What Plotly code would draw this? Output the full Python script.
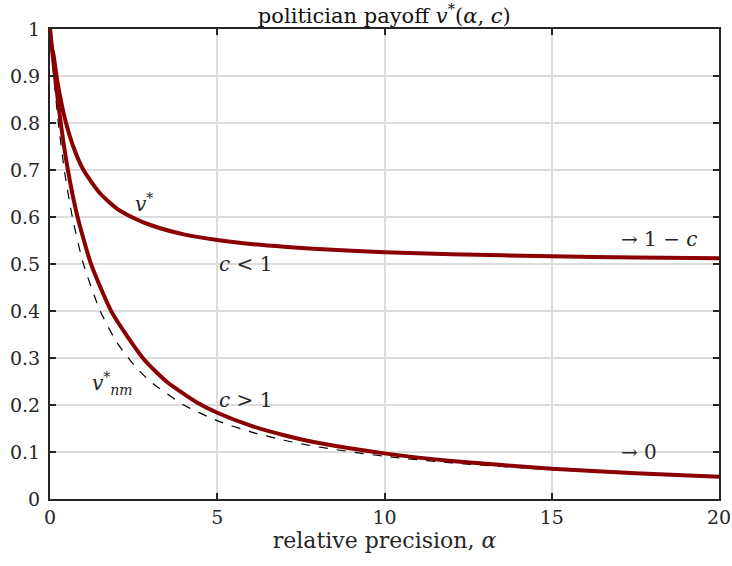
import plotly.graph_objects as go

# --- data ---
alpha_upper = [0, 0.05, 0.1, 0.2, 0.3, 0.45, 0.7, 1.0, 1.5, 2.0, 2.5, 3.0, 4.0, 5, 6, 7, 8, 10, 12, 15, 17.5, 20]
v_upper = [1.0, 0.961, 0.947, 0.898, 0.857, 0.808, 0.749, 0.700, 0.650, 0.618, 0.598, 0.583, 0.563, 0.551, 0.5425, 0.5365, 0.532, 0.525, 0.5207, 0.5164, 0.514, 0.512]

alpha_lower = [0, 0.05, 0.1, 0.17, 0.33, 0.52, 0.8, 1.22, 1.85, 2.8, 3.5, 4.45, 5, 6, 7, 8, 10, 12, 15, 17.5, 20]
v_lower = [1.0, 0.965, 0.931, 0.887, 0.795, 0.706, 0.607, 0.5015, 0.397, 0.298, 0.249, 0.203, 0.1835, 0.156, 0.1357, 0.1196, 0.0971, 0.081, 0.0643, 0.0548, 0.0476]

alpha_nm = [0, 0.05, 0.1, 0.25, 0.43, 0.67, 1.0, 1.5, 2.0, 2.5, 3, 4, 5, 6, 7, 8, 10, 12, 15, 17.5, 20]
v_nm = [1.0, 0.952, 0.909, 0.80, 0.699, 0.599, 0.50, 0.40, 0.333, 0.286, 0.25, 0.20, 0.1667, 0.1429, 0.125, 0.111, 0.0909, 0.0769, 0.0625, 0.054, 0.0476]

x_ticks = [0, 5, 10, 15, 20]
x_tick_labels = ["0", "5", "10", "15", "20"]
y_ticks = [0, 0.1, 0.2, 0.3, 0.4, 0.5, 0.6, 0.7, 0.8, 0.9, 1]
y_tick_labels = ["0", "0.1", "0.2", "0.3", "0.4", "0.5", "0.6", "0.7", "0.8", "0.9", "1"]

FONT = "DejaVu Serif"
RED = "#8b0000"
TXT = "#262626"

fig = go.Figure()
fig.add_trace(go.Scatter(x=alpha_nm, y=v_nm, mode="lines",
                         line=dict(color="black", width=1.2, dash="dash", shape="spline", smoothing=0.6),
                         showlegend=False, hoverinfo="skip"))
fig.add_trace(go.Scatter(x=alpha_lower, y=v_lower, mode="lines",
                         line=dict(color=RED, width=4, shape="spline", smoothing=0.6),
                         showlegend=False))
fig.add_trace(go.Scatter(x=alpha_upper, y=v_upper, mode="lines",
                         line=dict(color=RED, width=4, shape="spline", smoothing=0.6),
                         showlegend=False))

ann_font = dict(family=FONT, size=20, color=TXT)
annots = [
    dict(x=2.8, y=0.63, text="<i>v</i><sup>*</sup>", xanchor="center"),
    dict(x=4.98, y=0.50, text="<i>c</i> &lt; 1", xanchor="left"),
    dict(x=4.98, y=0.21, text="<i>c</i> &gt; 1", xanchor="left"),
    dict(x=17.0, y=0.553, text="→ 1 − <i>c</i>", xanchor="left"),
    dict(x=17.0, y=0.101, text="→ 0", xanchor="left"),
    dict(x=1.2, y=0.245, text="<i>v</i><sup>*</sup><sub><i>nm</i></sub>", xanchor="left"),
]
for a in annots:
    fig.add_annotation(x=a["x"], y=a["y"], text=a["text"], xanchor=a["xanchor"],
                       yanchor="middle", showarrow=False, font=ann_font)

axis_common = dict(
    showline=True, linecolor=TXT, linewidth=2, mirror="ticks",
    ticks="inside", ticklen=6, tickwidth=2, tickcolor=TXT,
    showgrid=True, gridcolor="#dcdcdc", gridwidth=2, zeroline=False,
    tickfont=dict(family=FONT, size=19, color=TXT), automargin=False,
)

fig.update_xaxes(range=[0, 20], tickvals=x_ticks, ticktext=x_tick_labels,
                 title=dict(text="relative precision, <i>α</i>", font=dict(family=FONT, size=22, color=TXT), standoff=4),
                 **axis_common)
fig.update_yaxes(range=[0, 1], tickvals=y_ticks, ticktext=y_tick_labels, ticklabelstandoff=4, **axis_common)

fig.update_layout(
    width=732, height=566,
    margin=dict(l=50, r=13, t=29, b=67),
    paper_bgcolor="white", plot_bgcolor="white",
    title=dict(text="politician payoff <i>v</i><sup>*</sup>(<i>α</i>, <i>c</i>)", x=0.525, xanchor="center",
               y=0.973, yanchor="middle", font=dict(family=FONT, size=21, color="#111")),
)

fig.write_html("out.html", post_script="document.body.style.margin='0';",
               config={"displayModeBar": False})
